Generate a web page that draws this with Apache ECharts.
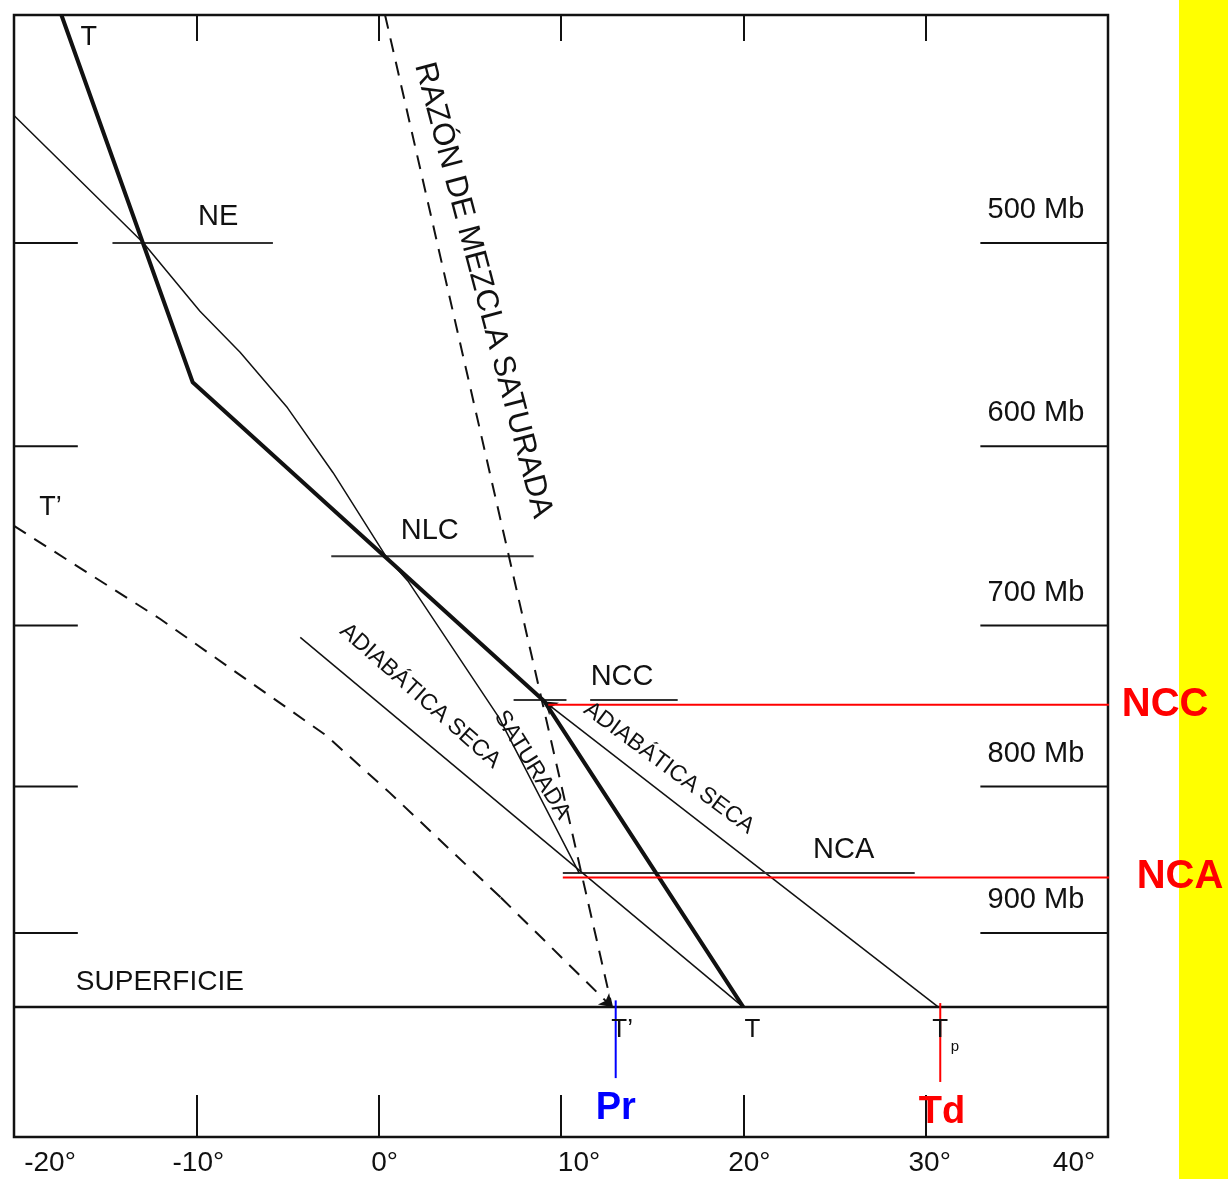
<!DOCTYPE html>
<html>
<head>
<meta charset="utf-8">
<script src="https://cdn.jsdelivr.net/npm/echarts@6/dist/echarts.min.js"></script>
<style>
  html, body { margin: 0; padding: 0; background: #ffffff; }
  #chart { width: 1228px; height: 1179px; }
</style>
</head>
<body>
<div id="chart"></div>
<script>
// ---- Temperature axis (°C) ----
const tempTicks = [-20, -10, 0, 10, 20, 30, 40];

// ---- Pressure (mb) ----
const isobars = [500, 600, 700, 800, 900];
const isobarLabels = ['500 Mb', '600 Mb', '700 Mb', '800 Mb', '900 Mb'];
const surfaceP = 954;
const pTop = 403.3;
const pBottom = 1054.5;

// Environmental temperature curve T: [°C, mb]
const curveT = [[-17.4, 403.3], [-10.2, 567], [9.1, 746], [20.0, 954]];
// Dew point curve T'
const curveDew = [[-20.0, 643], [-12.0, 696], [-2.9, 767], [0.6, 804], [6.7, 875], [12.8, 954]];
// Saturation mixing ratio line through T'
const mixingRatio = [[0.35, 403.3], [12.8, 954]];
// Dry adiabat rising from T
const dryAdiabatT = [[20.0, 954], [-4.3, 707]];
// Dry adiabat rising from Tp to the NCC
const dryAdiabatTp = [[30.7, 954], [9.1, 746]];
// Saturated adiabat rising from the NCA
const moistAdiabat = [[11.0, 858], [6.6, 756], [1.6, 674], [0.4, 660], [-2.5, 614], [-5.0, 580],
                      [-7.6, 552], [-9.8, 532], [-12.9, 500], [-20.0, 444]];

// Characteristic levels
const levelNames = ['NE', 'NLC', 'NCC', 'NCA'];
const levelP = [500, 660, 745, 858];
const levelSpans = [[[-14.6, -5.8]], [[-2.6, 8.5]], [[7.4, 10.3], [11.6, 16.4]], [[10.1, 29.4]]];

// Highlight marks
const markNCC = [[9.3, 748], [40.4, 748]];
const markNCA = [[10.1, 861], [41.2, 861]];
const markPr = [[13.0, 949], [13.0, 1008]];
const markTd = [[30.8, 951], [30.8, 1011]];

// Isobar stubs on both sides of the frame (°C spans)
const stubLeft = [-20, -16.5];
const stubRight = [33.0, 40];

// ---- helpers ----
const pScale = p => Math.pow(p, 0.25);          // vertical coordinate of the diagram
const toXY = pts => pts.map(([t, p]) => [t, pScale(p)]);
const FONT = 'Liberation Sans, Arial, Helvetica, sans-serif';
const INK = '#111111';

function line(pts, style, extra) {
  return Object.assign({
    type: 'line', data: toXY(pts), showSymbol: false, symbol: 'none',
    lineStyle: Object.assign({ opacity: 1 }, style), silent: true, clip: false, z: 3
  }, extra || {});
}

// a single straight segment ending in an arrow head
function arrowSegment(a, b, style) {
  return {
    type: 'lines', coordinateSystem: 'cartesian2d', polyline: false, silent: true, z: 3,
    data: [{ coords: toXY([a, b]) }],
    symbol: ['none', 'arrow'], symbolSize: [9, 12],
    itemStyle: { color: INK, opacity: 1 },
    lineStyle: Object.assign({ color: INK, opacity: 1, curveness: 0 }, style)
  };
}

const series = [];

// surface
series.push(line([[-20, surfaceP], [40, surfaceP]], { color: INK, width: 2.5 }));

// isobar stubs
isobars.forEach(p => {
  series.push(line([[stubLeft[0], p], [stubLeft[1], p]], { color: INK, width: 2 }));
  series.push(line([[stubRight[0], p], [stubRight[1], p]], { color: INK, width: 2 }));
});

// characteristic levels
levelSpans.forEach((spans, i) => {
  spans.forEach(s => series.push(line([[s[0], levelP[i]], [s[1], levelP[i]]], { color: '#333333', width: 2 })));
});

// thin adiabats
series.push(line(dryAdiabatT, { color: INK, width: 1.5 }));
series.push(line(moistAdiabat, { color: INK, width: 1.5 }));
series.push(arrowSegment(dryAdiabatTp[0], dryAdiabatTp[1], { width: 1.5 }));

// dashed curves
series.push(line(mixingRatio, { color: INK, width: 2, type: [14, 10] }));
const dewLast = curveDew.length - 1;
series.push(line(curveDew.slice(0, dewLast), { color: INK, width: 2, type: [14, 10] }));
series.push(arrowSegment(curveDew[dewLast - 1], curveDew[dewLast], { width: 2, type: [14, 10] }));

// environmental temperature
series.push(line(curveT, { color: INK, width: 4, join: 'round' }, { z: 4 }));

// coloured marks
series.push(line(markNCC, { color: '#ff0000', width: 2 }, { z: 5 }));
series.push(line(markNCA, { color: '#ff0000', width: 2 }, { z: 5 }));
series.push(line(markPr, { color: '#0000ff', width: 2 }, { z: 5 }));
series.push(line(markTd, { color: '#ff0000', width: 2 }, { z: 5 }));

// ---- text annotations anchored in diagram coordinates ----
const notes = [
  { text: 'T', t: -15.9, p: 412, size: 27 },
  { text: 'NE', t: -8.8, p: 488, size: 29 },
  { text: 'NLC', t: 2.8, p: 646, size: 29 },
  { text: 'NCC', t: 13.35, p: 731, size: 29 },
  { text: 'NCA', t: 25.5, p: 842, size: 29 },
  { text: 'T’', t: -18.0, p: 633, size: 27 },
  { text: 'SUPERFICIE', t: -12.0, p: 936, size: 28 },
  { text: 'T’', t: 13.35, p: 971, size: 26 },
  { text: 'T', t: 20.5, p: 971, size: 26 },
  { text: 'T', t: 30.8, p: 971, size: 26 },
  { text: 'p', t: 31.6, p: 984, size: 15 },
  { text: 'RAZÓN DE MEZCLA SATURADA', t: 5.72, p: 522, size: 31, rot: -75.3 },
  { text: 'ADIABÁTICA SECA', t: 2.27, p: 742.5, size: 23, rot: -41.5 },
  { text: 'SATURADA', t: 8.41, p: 786, size: 23, rot: -58 },
  { text: 'ADIABÁTICA SECA', t: 15.92, p: 788, size: 23, rot: -36.5 },
  { text: 'NCC', t: 43.13, p: 748, size: 40, color: '#ff0000', bold: true },
  { text: 'NCA', t: 43.95, p: 861, size: 40, color: '#ff0000', bold: true },
  { text: 'Pr', t: 13.0, p: 1031.5, size: 38, color: '#0000ff', bold: true },
  { text: 'Td', t: 30.9, p: 1034.6, size: 38, color: '#ff0000', bold: true }
];
isobars.forEach((p, i) => notes.push({ text: isobarLabels[i], t: 36.05, p: p, size: 29, dy: -33 }));

series.push({
  type: 'scatter', symbolSize: 0, silent: true, clip: false, z: 6,
  itemStyle: { opacity: 1 },
  data: notes.map(n => ({
    value: [n.t, pScale(n.p)],
    label: {
      show: true, position: 'inside', formatter: n.text, opacity: 1,
      fontSize: n.size, rotate: n.rot || 0, offset: [0, n.dy || 0],
      color: n.color || INK, fontWeight: n.bold ? 'bold' : 'normal',
      fontFamily: FONT
    }
  }))
});

// tick label nudges (px) so each label sits where it is printed
const labelNudge = [36, 2, 6, 18, 6, 4, -34];
const tickRich = {};
labelNudge.forEach((s, i) => {
  tickRich['n' + i] = {
    fontSize: 28, color: INK, fontFamily: FONT,
    padding: s >= 0 ? [0, 0, 0, 2 * s] : [0, -2 * s, 0, 0]
  };
});

const chart = echarts.init(document.getElementById('chart'), null, { renderer: 'canvas' });
chart.setOption({
  animation: false,
  backgroundColor: '#ffffff',
  graphic: [{
    type: 'rect', z: 0, silent: true,
    shape: { x: 1179, y: 0, width: 49, height: 1179 },
    style: { fill: '#ffff00' }
  }],
  grid: {
    left: 14, right: 120, top: 15, bottom: 42,
    show: true, borderColor: INK, borderWidth: 2.5,
    backgroundColor: 'rgba(0,0,0,0)',
    containLabel: false, outerBoundsMode: 'none'
  },
  xAxis: [{
    type: 'value', min: -20, max: 40, interval: 10, position: 'bottom',
    axisLine: { show: false }, splitLine: { show: false },
    axisTick: { show: true, inside: true, length: 42, lineStyle: { color: INK, width: 2 } },
    axisLabel: {
      show: true, margin: 12, showMinLabel: true, showMaxLabel: true,
      formatter: v => '{n' + tempTicks.indexOf(v) + '|' + v + '°}',
      rich: tickRich
    }
  }, {
    type: 'value', min: -20, max: 40, interval: 10, position: 'top',
    axisLine: { show: false }, splitLine: { show: false },
    axisTick: { show: true, inside: true, length: 26, lineStyle: { color: INK, width: 2 } },
    axisLabel: { show: false }
  }],
  yAxis: {
    type: 'value', inverse: true, min: pScale(pTop), max: pScale(pBottom), show: false
  },
  series: series
});
</script>
</body>
</html>
